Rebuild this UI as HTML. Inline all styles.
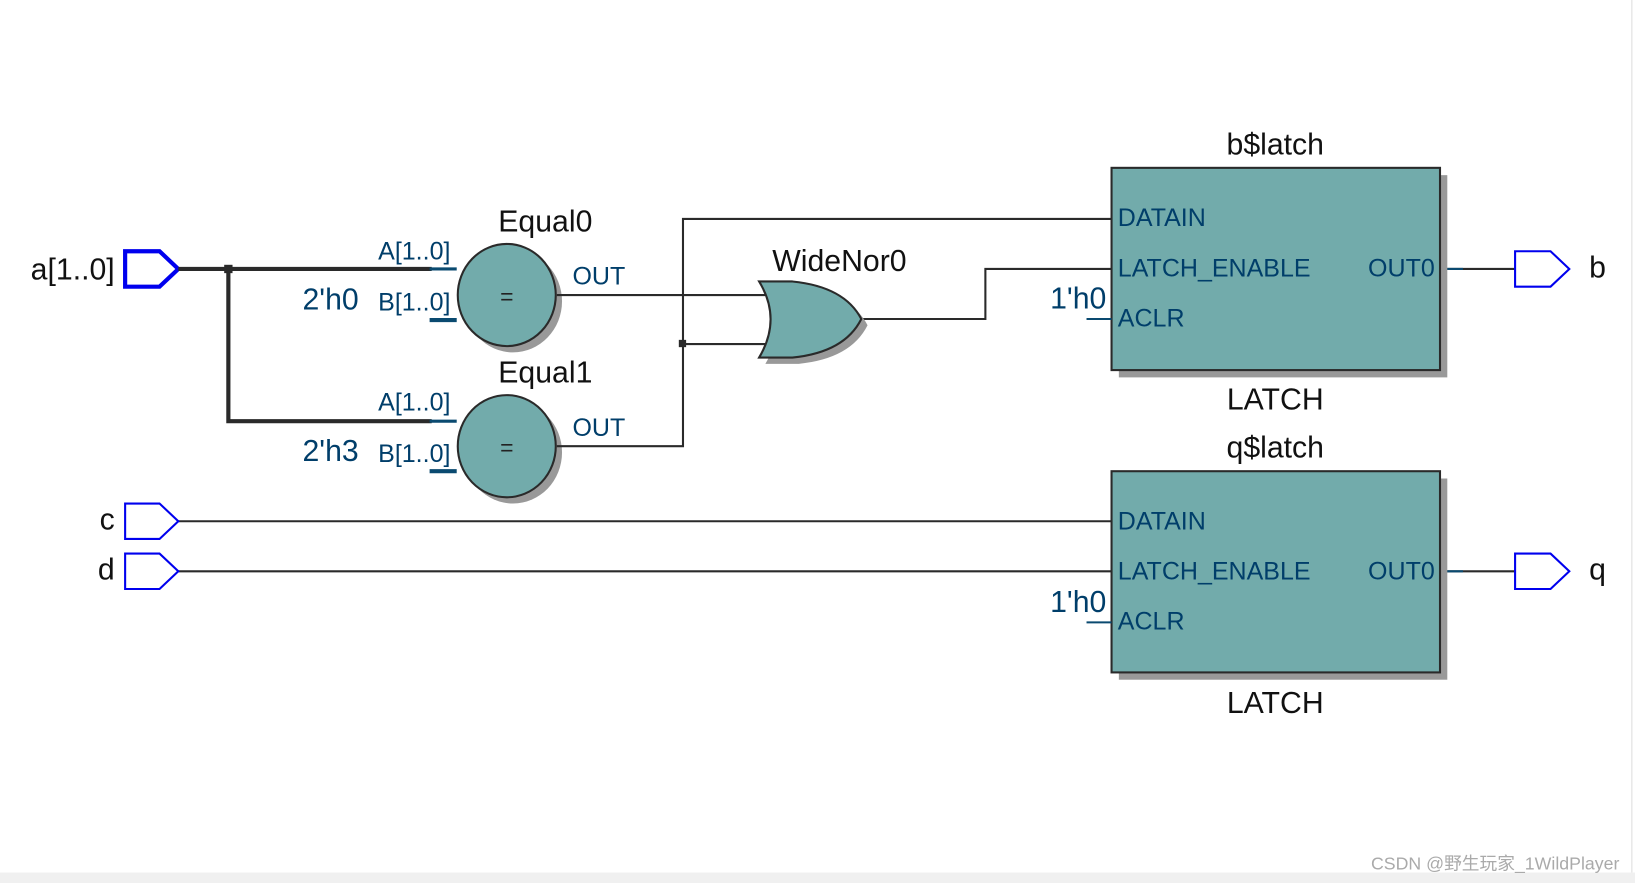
<!DOCTYPE html>
<html><head><meta charset="utf-8"><style>
html,body{margin:0;padding:0;background:#fff;width:1635px;height:883px;overflow:hidden}
svg{display:block}
text{font-family:"Liberation Sans","Noto Sans CJK SC",sans-serif}
.bl{fill:#003e6a;font-size:24px}
.bk{fill:#111;font-size:29px}
</style></head><body>
<svg width="1635" height="883" viewBox="0 0 1568 847" preserveAspectRatio="none">
<rect x="0" y="0" width="1568" height="847" fill="#fff"/>
<line x1="1565" y1="0" x2="1565" y2="837" stroke="#ddd" stroke-width="1"/>
<rect x="0" y="837" width="1568" height="10" fill="#f0f0f0"/>
<polygon points="120,241 153,241 171,258 153,275 120,275" fill="#fff" stroke="#0000ee" stroke-width="4"/>
<text x="110" y="268" class="bk" text-anchor="end">a[1..0]</text>
<g stroke="#2a2a2a" stroke-width="4" fill="none">
<polyline points="171,258 414,258"/>
<polyline points="219,258 219,404 414,404"/>
</g>
<rect x="215" y="254" width="8" height="8" fill="#2a2a2a"/>
<g stroke="#0a4a70" stroke-width="3">
<line x1="412" y1="258" x2="438" y2="258"/><line x1="412" y1="307" x2="438" y2="307" stroke-width="4"/>
<line x1="412" y1="404" x2="438" y2="404"/><line x1="412" y1="452" x2="438" y2="452" stroke-width="4"/>
</g>
<ellipse cx="492" cy="289" rx="47" ry="49" fill="#999"/>
<ellipse cx="486" cy="283" rx="47" ry="49" fill="#72abab" stroke="#2a2a2a" stroke-width="2"/>
<text x="486" y="292" text-anchor="middle" font-size="22" fill="#222">=</text>
<text x="523" y="222" text-anchor="middle" class="bk">Equal0</text>
<text x="432" y="249" text-anchor="end" class="bl">A[1..0]</text>
<text x="432" y="298" text-anchor="end" class="bl">B[1..0]</text>
<text x="344" y="297" text-anchor="end" class="bl" style="font-size:29px">2'h0</text>
<text x="549" y="273" class="bl">OUT</text>
<ellipse cx="492" cy="434" rx="47" ry="49" fill="#999"/>
<ellipse cx="486" cy="428" rx="47" ry="49" fill="#72abab" stroke="#2a2a2a" stroke-width="2"/>
<text x="486" y="437" text-anchor="middle" font-size="22" fill="#222">=</text>
<text x="523" y="367" text-anchor="middle" class="bk">Equal1</text>
<text x="432" y="394" text-anchor="end" class="bl">A[1..0]</text>
<text x="432" y="443" text-anchor="end" class="bl">B[1..0]</text>
<text x="344" y="442" text-anchor="end" class="bl" style="font-size:29px">2'h3</text>
<text x="549" y="418" class="bl">OUT</text>
<g stroke="#2a2a2a" stroke-width="2" fill="none">
<polyline points="534,283 740,283"/>
<polyline points="534,428 655,428 655,210 1066,210"/>
<polyline points="655,330 740,330"/>
<polyline points="826,306 945,306 945,258 1066,258"/>
<polyline points="171,500 1066,500"/>
<polyline points="171,548 1066,548"/>
<polyline points="1381,258 1453,258"/>
<polyline points="1381,548 1453,548"/>
</g>
<g stroke="#0a4a70" stroke-width="2">
<line x1="1381" y1="258" x2="1403" y2="258"/>
<line x1="1381" y1="548" x2="1403" y2="548"/>
</g>
<rect x="651" y="326" width="7" height="7" fill="#2a2a2a"/>
<path d="M734,276 L766,276 Q816,281 832,312 Q816,344 766,349 L734,349 Q756,312 734,276 Z" fill="#999"/>
<path d="M728,270 L760,270 Q810,275 826,306 Q810,338 760,343 L728,343 Q750,306 728,270 Z" fill="#72abab" stroke="#2a2a2a" stroke-width="2"/>
<text x="805" y="260" text-anchor="middle" class="bk">WideNor0</text>
<rect x="1073" y="168" width="315" height="194" fill="#999"/>
<rect x="1066" y="161" width="315" height="194" fill="#72abab" stroke="#2a2a2a" stroke-width="2"/>
<text x="1223" y="148" text-anchor="middle" class="bk">b$latch</text>
<text x="1223" y="393" text-anchor="middle" class="bk" fill="#222">LATCH</text>
<text x="1072" y="217" class="bl">DATAIN</text>
<text x="1072" y="265" class="bl">LATCH_ENABLE</text>
<text x="1072" y="313" class="bl">ACLR</text>
<text x="1376" y="265" text-anchor="end" class="bl">OUT0</text>
<text x="1061" y="296" text-anchor="end" class="bl" style="font-size:29px">1'h0</text>
<line x1="1042" y1="306" x2="1066" y2="306" stroke="#0a4a70" stroke-width="2"/>
<rect x="1073" y="459" width="315" height="193" fill="#999"/>
<rect x="1066" y="452" width="315" height="193" fill="#72abab" stroke="#2a2a2a" stroke-width="2"/>
<text x="1223" y="439" text-anchor="middle" class="bk">q$latch</text>
<text x="1223" y="684" text-anchor="middle" class="bk" fill="#222">LATCH</text>
<text x="1072" y="508" class="bl">DATAIN</text>
<text x="1072" y="556" class="bl">LATCH_ENABLE</text>
<text x="1072" y="604" class="bl">ACLR</text>
<text x="1376" y="556" text-anchor="end" class="bl">OUT0</text>
<text x="1061" y="587" text-anchor="end" class="bl" style="font-size:29px">1'h0</text>
<line x1="1042" y1="597" x2="1066" y2="597" stroke="#0a4a70" stroke-width="2"/>
<g fill="#fff" stroke="#0000ee" stroke-width="2">
<polygon points="120,483 153,483 171,500 153,517 120,517"/>
<polygon points="120,531 153,531 171,548 153,565 120,565"/>
<polygon points="1453,241 1487,241 1505,258 1487,275 1453,275"/>
<polygon points="1453,531 1487,531 1505,548 1487,565 1453,565"/>
</g>
<text x="110" y="508" text-anchor="end" class="bk">c</text>
<text x="110" y="556" text-anchor="end" class="bk">d</text>
<text x="1524" y="266" class="bk">b</text>
<text x="1524" y="556" class="bk">q</text>
<text x="1553" y="834" text-anchor="end" font-size="17" fill="#aaa">CSDN @野生玩家_1WildPlayer</text>
</svg>
</body></html>
